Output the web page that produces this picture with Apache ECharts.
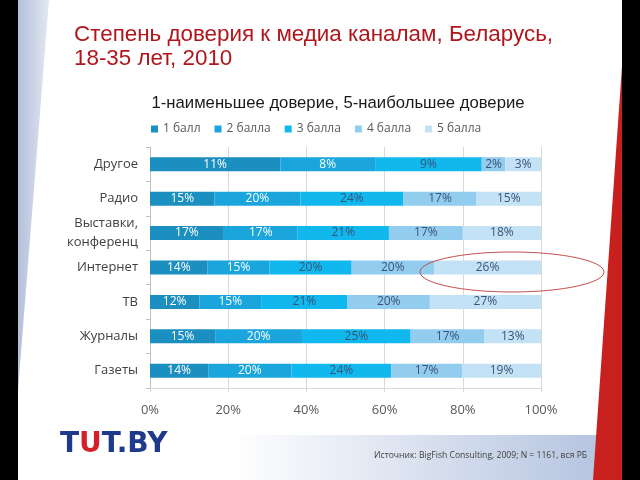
<!DOCTYPE html>
<html><head><meta charset="utf-8">
<script src="https://cdn.jsdelivr.net/npm/echarts@6/dist/echarts.min.js"></script>
<style>html,body{margin:0;padding:0;background:#fff}#c{width:640px;height:480px}</style>
</head><body><div id="c"></div>
<script>
const categories = ['Другое','Радио','Выставки,\nконференц','Интернет','ТВ','Журналы','Газеты'];
const seriesNames = ['1 балл','2 балла','3 балла','4 балла','5 балла'];
const s1 = [11,15,17,14,12,15,14];
const s2 = [8,20,17,15,15,20,20];
const s3 = [9,24,21,20,21,25,24];
const s4 = [2,17,17,20,20,17,17];
const s5 = [3,15,18,26,27,13,19];
const xTicks = [0,20,40,60,80,100];
const colors = ['#1b8fbf','#1aa5dc','#10b8ee','#92cdf0','#c4e2f6'];
const labelColors = ['#ffffff','#ffffff','#3b5275','#3b5275','#3b5275'];

const raw = [s1,s2,s3,s4,s5];
const totals = categories.map((c,i)=>raw.reduce((a,s)=>a+s[i],0));

const chart = echarts.init(document.getElementById('c'));
const series = raw.map((s,k)=>({
  name: seriesNames[k], type:'bar', stack:'t', barWidth:14,
  itemStyle:{color:colors[k]},
  label:{show:true, position:'inside', color:labelColors[k], fontFamily:'Open Sans', fontSize:12,
    formatter:p=>p.data.raw+'%'},
  data: s.map((v,i)=>({value: v/totals[i]*100, raw:v}))
}));

chart.setOption({
  animation:false,
  textStyle:{fontFamily:'Liberation Sans'},
  title:[{
    text:'Степень доверия к медиа каналам, Беларусь,\n18-35 лет, 2010',
    left:69, top:18,
    textStyle:{color:'#b0161c', fontSize:22.4, fontWeight:'normal', fontFamily:'Liberation Sans', lineHeight:24}
  },{
    text:'1-наименьшее доверие, 5-наибольшее доверие',
    left:333, textAlign:'center', top:90,
    textStyle:{color:'#1a1a1a', fontSize:16.7, fontWeight:'normal', fontFamily:'Liberation Sans'}
  }],
  legend:{
    data:seriesNames, left:146, top:118, icon:'rect', itemWidth:7, itemHeight:7, itemGap:14,
    textStyle:{color:'#595959', fontSize:12, fontFamily:'Open Sans'}
  },
  grid:{left:150, right:99, top:147, bottom:92},
  xAxis:{
    type:'value', min:0, max:100, interval:20,
    axisLabel:{formatter:v=>v+'%', color:'#595959', fontSize:13, fontFamily:'Open Sans', margin:16},
    axisLine:{show:true, lineStyle:{color:'#d9d9d9'}},
    axisTick:{show:true, length:4, lineStyle:{color:'#d9d9d9'}},
    splitLine:{show:true, lineStyle:{color:'#d9d9d9'}}
  },
  yAxis:{
    type:'category', data:categories, inverse:true,
    axisLabel:{color:'#404040', fontSize:13, fontFamily:'Open Sans', margin:12, lineHeight:19},
    axisLine:{show:true, lineStyle:{color:'#bfbfbf'}},
    axisTick:{show:true, length:4, lineStyle:{color:'#bfbfbf'}}
  },
  series:series,
  graphic:[
    {type:'rect', z:-10, shape:{x:0,y:0,width:18,height:480}, style:{fill:'#000'}},
    {type:'polygon', z:-9, shape:{points:[[18,0],[49,0],[18,390]]}, style:{fill:new echarts.graphic.LinearGradient(0,0,1,0,[{offset:0,color:'#b3c0da'},{offset:1,color:'#e3e8f2'}])}},
    {type:'rect', z:-10, shape:{x:622,y:0,width:18,height:480}, style:{fill:'#000'}},
    {type:'polygon', z:-9, shape:{points:[[622,66],[622,480],[593,480]]}, style:{fill:'#c8201e'}},
    {type:'polygon', z:-11, shape:{points:[[230,435],[602,435],[596,480],[230,480]]}, style:{fill:new echarts.graphic.LinearGradient(0,0,1,0,[{offset:0,color:'#ffffff'},{offset:1,color:'#b5c4e0'}])}},
    {type:'text', z:50, left:374, top:451, style:{text:'Источник: BigFish Consulting, 2009; N = 1161, вся РБ', fill:'#404040', fontSize:8.6, fontFamily:'Open Sans'}},
    {type:'text', left:60, top:431, style:{text:'{a|T}{b|U}{a|T.BY}', rich:{a:{fill:'#1f3a8a',fontSize:28,fontWeight:'bold',fontFamily:'DejaVu Sans'},b:{fill:'#d4202a',fontSize:28,fontWeight:'bold',fontFamily:'DejaVu Sans'}}}},
    {type:'ellipse', z:100, shape:{cx:512, cy:272, rx:92, ry:20}, style:{fill:null, stroke:'#c0504d', lineWidth:1}}
  ]
});
</script></body></html>
